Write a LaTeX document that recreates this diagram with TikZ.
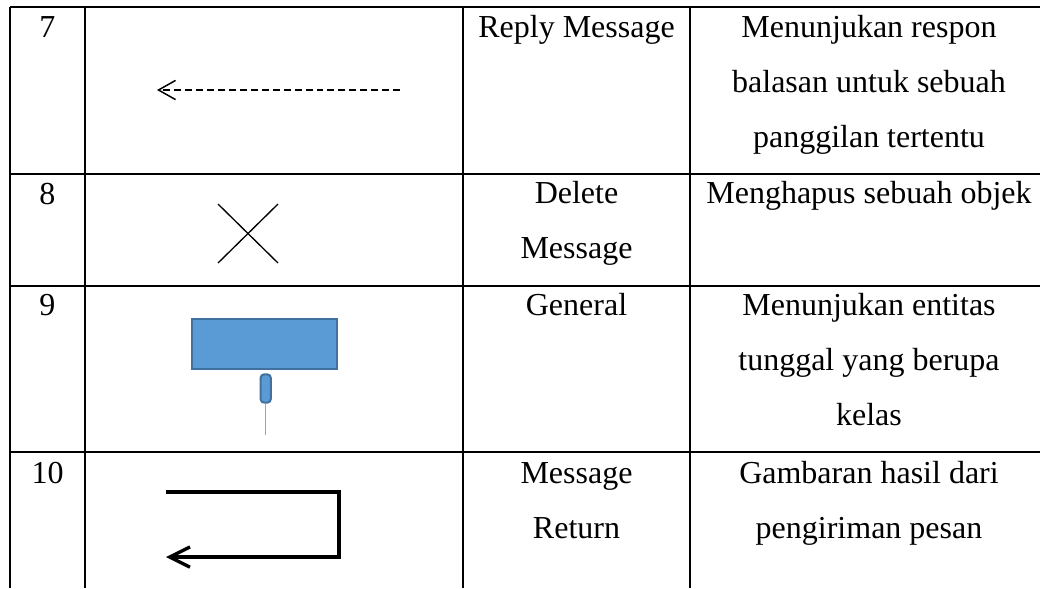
\documentclass[tikz,border=0pt]{standalone}
\usepackage{fontspec}
\setmainfont{Liberation Serif}
\usetikzlibrary{arrows.meta}
\definecolor{symFill}{RGB}{91,155,213}
\definecolor{symEdge}{RGB}{65,113,156}
\definecolor{symLine}{RGB}{120,170,220}
\tikzset{
  cellText/.style={anchor=base,inner sep=0pt,align=center,font=\fontsize{12}{20.6}\selectfont},
  gridLine/.style={line width=0.75pt},
}

\begin{document}
\begin{tikzpicture}[x=0.375pt,y=-0.375pt]
\useasboundingbox (0,0) rectangle (1040,588);
% table rules
\foreach \yy in {7,174,286,452}
  \draw[gridLine] (10,\yy) -- (1040,\yy);
\foreach \xx in {10,85,463,690}
  \draw[gridLine] (\xx,6.6) -- (\xx,588);
% numbers
\foreach \num/\yy in {7/37,8/204,9/315,10/483}
  \node[cellText] (no\num) at (47.5,\yy) {\num};
% names (base = last line)
\node[cellText] (replyName) at (576.5,37) {Reply Message};
\node[cellText] (deleteName) at (576.5,258) {Delete\\Message};
\node[cellText] (generalName) at (576.5,315) {General};
\node[cellText] (returnName) at (576.5,538) {Message\\Return};
% descriptions
\node[cellText] (replyDesc) at (869,147) {Menunjukan respon\\balasan untuk sebuah\\panggilan tertentu};
\node[cellText] (deleteDesc) at (869,203) {Menghapus sebuah objek};
\node[cellText] (generalDesc) at (869,425) {Menunjukan entitas\\tunggal yang berupa\\kelas};
\node[cellText] (returnDesc) at (869,538) {Gambaran hasil dari\\pengiriman pesan};
% 7: reply arrow
\coordinate (replyFrom) at (400,90);
\coordinate (replyTo) at (157,90);
\draw[line width=0.55pt,dash pattern=on 2.6pt off 1.5pt,-{Straight Barb[length=6.4pt,width=7.2pt]}] (replyFrom) -- (replyTo);
% 8: delete cross
\draw[line width=0.5pt] (218,204) -- (278,263) (278,204) -- (218,263);
% 9: general object
\node[draw=symEdge,fill=symFill,line width=0.75pt,minimum width=54.5pt,minimum height=18.4pt,inner sep=0pt] (genBox) at (264.5,344) {};
\node[draw=symEdge,fill=symFill,line width=0.75pt,rounded corners=1.3pt,minimum width=3.8pt,minimum height=10.6pt,inner sep=0pt] (genBar) at (265.7,388.5) {};
\coordinate (genEnd) at (265.7,435);
\draw[symLine,line width=0.5pt] (genBar.south) -- (genEnd);
% 10: message return
\coordinate (retA) at (166,492);
\coordinate (retB) at (339,492);
\coordinate (retC) at (339,557);
\coordinate (retD) at (166,557);
\draw[line width=1.25pt,-{Straight Barb[length=7.6pt,width=7.6pt]}] (retA) -- (retB) -- (retC) -- (retD);
\end{tikzpicture}
\end{document}
